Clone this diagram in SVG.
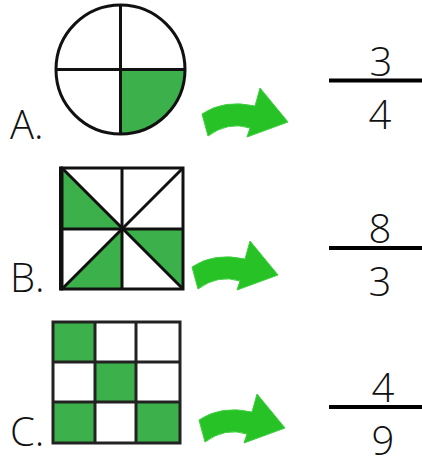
<svg xmlns="http://www.w3.org/2000/svg" width="422" height="457" viewBox="0 0 422 457">
<defs>
<style>
.lbl{font-family:"Open Sans","Liberation Sans",sans-serif;font-weight:300;font-size:40px;fill:#111;}
.num{font-family:"Open Sans","Liberation Sans",sans-serif;font-weight:300;font-size:40px;fill:#111;text-anchor:middle;}
.ln{stroke:#111;stroke-width:3;fill:none;}
.g{fill:#3cb04a;}
.bar{stroke:#000;stroke-width:4;}
.arrow{fill:#26c226;stroke:#3fd03f;stroke-width:1;stroke-linejoin:round;}
</style>
<path id="arr" d="M202,114 Q224,99 255,106 L260,88 L288,122 L247,137 L250,128 Q228,121 208,136 Z"/>
</defs>
<rect width="422" height="457" fill="#fff"/>

<g id="nodeA">
<path class="g" d="M120.5,69.5 H185 A64.5,64.5 0 0 1 120.5,134 Z"/>
<circle class="ln" cx="120.5" cy="69.5" r="64.5"/>
<line class="ln" x1="56" y1="69.5" x2="185" y2="69.5"/>
<line class="ln" x1="120.5" y1="5" x2="120.5" y2="134"/>
<text class="lbl" x="10" y="139">A.</text>
</g>

<g id="nodeB">
<polygon class="g" points="61,168 122,229 61,229"/>
<polygon class="g" points="122,229 122,289 61,289"/>
<polygon class="g" points="122,229 183,229 183,289"/>
<rect class="ln" x="62" y="168" width="121" height="121"/>
<line class="ln" x1="61" y1="166.5" x2="61" y2="290.5" style="stroke-width:4"/>
<line class="ln" x1="122" y1="168" x2="122" y2="289"/>
<line class="ln" x1="61" y1="229" x2="183" y2="229"/>
<line class="ln" x1="62" y1="168" x2="183" y2="289"/>
<line class="ln" x1="183" y1="168" x2="62" y2="289"/>
<text class="lbl" x="10" y="292">B.</text>
</g>

<g id="nodeC">
<rect class="g" x="53" y="322" width="42" height="40"/>
<rect class="g" x="95" y="362" width="41" height="40"/>
<rect class="g" x="53" y="402" width="42" height="41"/>
<rect class="g" x="136" y="402" width="44" height="41"/>
<rect class="ln" x="53" y="322" width="127" height="121" style="stroke:#222"/>
<line class="ln" x1="95" y1="322" x2="95" y2="443" style="stroke:#222"/>
<line class="ln" x1="136" y1="322" x2="136" y2="443" style="stroke:#222"/>
<line class="ln" x1="53" y1="362" x2="180" y2="362" style="stroke:#222"/>
<line class="ln" x1="53" y1="402" x2="180" y2="402" style="stroke:#222"/>
<text class="lbl" x="10" y="446">C.</text>
</g>

<g id="connectors">
<use href="#arr" class="arrow"/>
<use href="#arr" class="arrow" transform="translate(-10,153)"/>
<use href="#arr" class="arrow" transform="translate(-3,306)"/>
</g>

<g id="fracA">
<text class="num" x="381" y="76">3</text>
<line class="bar" x1="329" y1="80.5" x2="422" y2="80.5"/>
<text class="num" x="380" y="129">4</text>
</g>
<g id="fracB">
<text class="num" x="380" y="243">8</text>
<line class="bar" x1="329" y1="248" x2="422" y2="248"/>
<text class="num" x="380" y="296">3</text>
</g>
<g id="fracC">
<text class="num" x="383" y="402">4</text>
<line class="bar" x1="329" y1="407" x2="422" y2="407"/>
<text class="num" x="383" y="455">9</text>
</g>
</svg>
